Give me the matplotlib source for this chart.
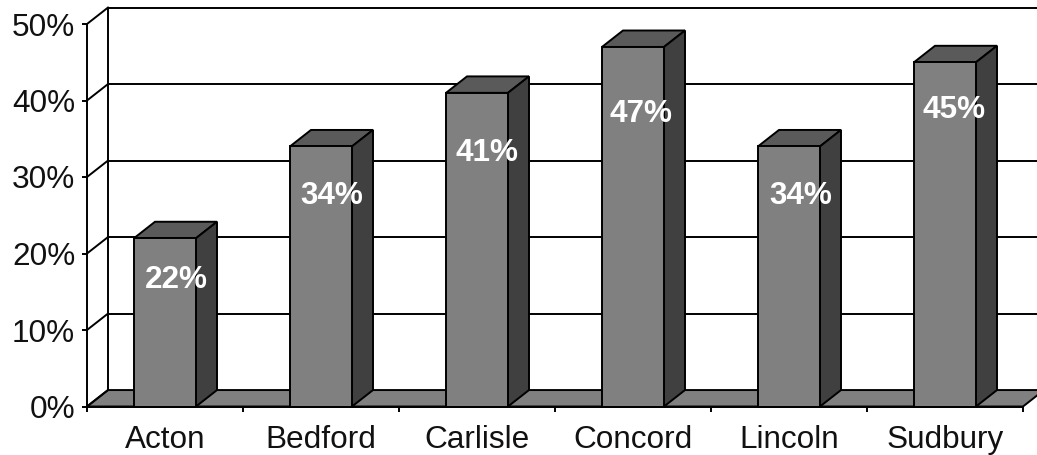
import matplotlib
matplotlib.use("Agg")
import matplotlib.pyplot as plt
from matplotlib.patches import Polygon

plt.rcParams["font.family"] = ["Liberation Sans", "DejaVu Sans"]

# data
towns = ["Acton", "Bedford", "Carlisle", "Concord", "Lincoln", "Sudbury"]
values = [22, 34, 41, 47, 34, 45]
y_ticks = [0, 10, 20, 30, 40, 50]

# where the value labels sit, measured down from bar top (percent) and right of centre (category)
label_drop = [5.5, 6.5, 7.9, 8.8, 6.5, 6.3]
label_shift = [0.074, 0.07, 0.065, 0.05, 0.077, 0.058]

W, H = 1037, 455
fig = plt.figure(figsize=(W / 100, H / 100), dpi=100)
ax = fig.add_axes([87 / W, 1 - 406.5 / H, 936 / W, 382.5 / H])
ax.set_xlim(0, 6)
ax.set_ylim(0, 50)

# depth of the fake 3d box, in data units
dx = 21 / 156
dy = 2.15
bar_w = 62 / 156
lw = 1.4
font = 22.7

for s in ["top", "right"]:
    ax.spines[s].set_visible(False)
for s in ["left", "bottom"]:
    ax.spines[s].set_linewidth(lw)
    ax.spines[s].set_zorder(6)
ax.patch.set_visible(False)


def poly(pts, color, z):
    ax.add_patch(Polygon(pts, closed=True, facecolor=color, edgecolor="black",
                         linewidth=lw, zorder=z, clip_on=False, joinstyle="miter"))


# floor
poly([(0, 0), (6, 0), (6 + dx, dy), (dx, dy)], "#808080", 1)

# back wall and side wall lines
ax.plot([dx, dx], [dy, 50 + dy], color="black", lw=lw, zorder=2, clip_on=False)
for t in y_ticks:
    if t > 0:
        ax.plot([dx, 6 + dx], [t + dy, t + dy], color="black", lw=lw, zorder=2, clip_on=False)
    ax.plot([0, dx], [t, t + dy], color="black", lw=lw, zorder=2, clip_on=False)

# bars
for i, v in enumerate(values):
    x0 = i + 0.5 - bar_w / 2
    x1 = x0 + bar_w
    poly([(x0, v), (x1, v), (x1 + dx, v + dy), (x0 + dx, v + dy)], "#5a5a5a", 3)
    poly([(x1, 0), (x1 + dx, dy), (x1 + dx, v + dy), (x1, v)], "#404040", 3)
    poly([(x0, 0), (x1, 0), (x1, v), (x0, v)], "#808080", 4)
    ax.text(i + 0.5 + label_shift[i], v - label_drop[i], f"{v}%", color="white",
            fontsize=font, fontweight="bold", ha="center", va="center", zorder=7)

# ticks
ax.set_yticks(y_ticks)
ax.set_yticklabels([f"{t}%" for t in y_ticks], fontsize=font, color="#111111")
ax.set_xticks(range(7))
ax.set_xticklabels([])
ax.set_xticks([i + 0.5 for i in range(6)], minor=True)
ax.set_xticklabels(towns, minor=True, fontsize=font, color="#111111")
ax.tick_params(axis="x", which="major", length=3.5, width=lw)
ax.tick_params(axis="x", which="minor", length=0, pad=13)
ax.tick_params(axis="y", length=3.5, width=lw, pad=5)

fig.savefig("out.png", dpi=100)
